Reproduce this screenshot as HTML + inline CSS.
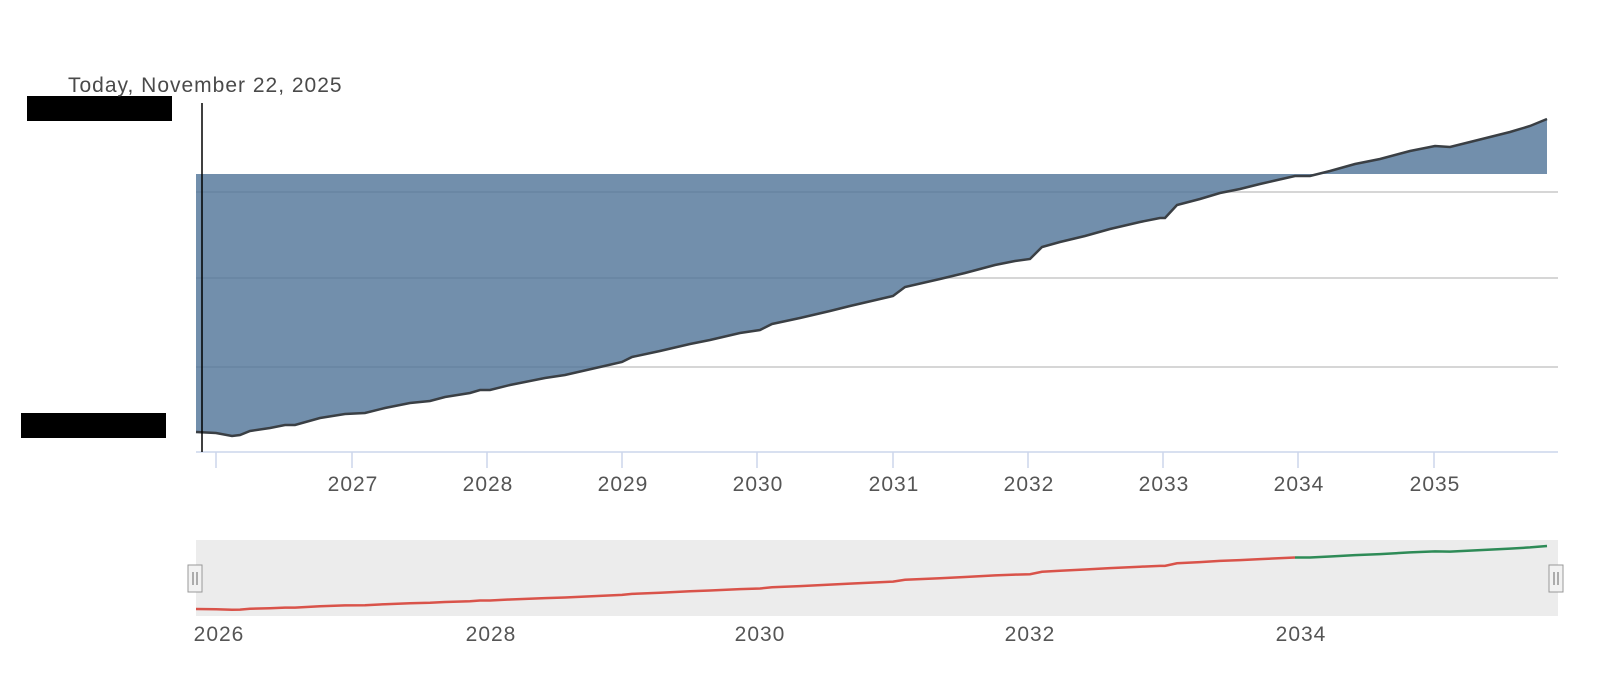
<!DOCTYPE html>
<html><head><meta charset="utf-8"><style>
html,body{margin:0;padding:0;background:#fff;width:1600px;height:696px;overflow:hidden}
svg text{font-family:"Liberation Sans",sans-serif}
</style></head><body>
<svg id="s" width="1600" height="696" xmlns="http://www.w3.org/2000/svg">
<rect x="27" y="96" width="145" height="25" fill="#000"/>
<rect x="21" y="413" width="145" height="25" fill="#000"/>
<text x="68" y="92" font-size="21" letter-spacing="1" fill="#4a4a4a">Today, November 22, 2025</text>
<g stroke="#c8c8c8" stroke-width="1.5">
<line x1="196" y1="192" x2="1558" y2="192"/>
<line x1="196" y1="278" x2="1558" y2="278"/>
<line x1="196" y1="367" x2="1558" y2="367"/>
</g>
<path id="area" fill="#4f7397" fill-opacity="0.8" d=""/>
<path id="line" fill="none" stroke="#3a3f44" stroke-width="2.5" d=""/>
<line x1="196" y1="452" x2="1558" y2="452" stroke="#ccd6eb" stroke-width="1.5"/>
<g stroke="#ccd6eb" stroke-width="1.5" id="ticks"></g>
<g font-size="21" letter-spacing="1" fill="#555" text-anchor="middle" id="labels"></g>
<line x1="202" y1="103" x2="202" y2="452" stroke="#000" stroke-width="1.5"/>
<rect x="196" y="540" width="1362" height="76" fill="#ececec"/>
<path id="nr" fill="none" stroke="#d9534a" stroke-width="2.5"/>
<path id="ng" fill="none" stroke="#2e8b57" stroke-width="2.5"/>
<rect x="188" y="565" width="14" height="27" fill="#f2f2f2" stroke="#999" stroke-width="1"/>
<line x1="193" y1="572" x2="193" y2="585" stroke="#666"/><line x1="197" y1="572" x2="197" y2="585" stroke="#666"/>
<rect x="1549" y="565" width="14" height="27" fill="#f2f2f2" stroke="#999" stroke-width="1"/>
<line x1="1554" y1="572" x2="1554" y2="585" stroke="#666"/><line x1="1558" y1="572" x2="1558" y2="585" stroke="#666"/>
<g font-size="21" letter-spacing="1" fill="#555" text-anchor="middle">
<text x="219" y="641">2026</text><text x="491" y="641">2028</text><text x="760" y="641">2030</text><text x="1030" y="641">2032</text><text x="1301" y="641">2034</text>
</g>
</svg>
<script>
var p=[[196,432],[216,433],[232,436],[240,435],[250,431],[270,428],[285,425],[295,425],[320,418],[345,414],[365,413],[385,408],[410,403],[430,401],[445,397],[470,393],[480,390],[490,390],[510,385],[545,378],[565,375],[600,367],[622,362],[632,357],[660,351],[690,344],[710,340],[740,333],[760,330],[772,324],[800,318],[830,311],[850,306],[893,296],[905,287],[940,279],[965,273],[995,265],[1015,261],[1030,259],[1042,247],[1060,242],[1085,236],[1110,229],[1140,222],[1160,218],[1165,218],[1177,205],[1200,199],[1220,193],[1240,189],[1260,184],[1295,176],[1310,176],[1330,171],[1355,164],[1380,159],[1410,151],[1435,146],[1450,147],[1470,142],[1490,137],[1510,132],[1530,126],[1547,119]];
var d=p.map(function(q,i){return (i?'L':'M')+q[0]+' '+q[1]}).join(' ');
document.getElementById('line').setAttribute('d',d);
document.getElementById('area').setAttribute('d',d+' L1547 174 L196 174 Z');
function ny(y){return 609-(432-y)*63/313}
var r=[],g=[];p.forEach(function(q){var s=q[0]+' '+ny(q[1]).toFixed(1);if(q[0]<=1295)r.push(s);if(q[0]>=1295)g.push(s);});
document.getElementById('nr').setAttribute('d','M'+r.join(' L'));
document.getElementById('ng').setAttribute('d','M'+g.join(' L'));
var xs=[216,352,487,622,757,893,1028,1163,1298,1434],T='',L='';
xs.forEach(function(x,i){T+='<line x1="'+x+'" y1="452" x2="'+x+'" y2="468"/>';if(i>0)L+='<text x="'+(x+1)+'" y="491">'+(2026+i)+'</text>';});
document.getElementById('ticks').innerHTML=T;document.getElementById('labels').innerHTML=L;
</script>
</body></html>
